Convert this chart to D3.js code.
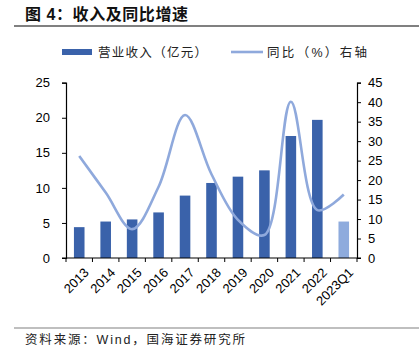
<!DOCTYPE html>
<html><head><meta charset="utf-8">
<script src="https://cdn.jsdelivr.net/npm/d3@7/dist/d3.min.js"></script>
<style>
body{margin:0;background:#fff;}
text{font-family:"Liberation Sans","Noto Sans CJK SC",Arial,sans-serif;}
</style></head>
<body>
<svg id="c" width="419" height="349"></svg>
<script>
const categories = ["2013","2014","2015","2016","2017","2018","2019","2020","2021","2022","2023Q1"];
const revenue = [4.4, 5.2, 5.5, 6.5, 8.9, 10.7, 11.6, 12.5, 17.4, 19.7, 5.2];
const yoy = [26.2, 16.8, 7.4, 18.3, 36.7, 21.5, 9.8, 5.9, 40.1, 12.3, 16.3];
const leftTicks = [0,5,10,15,20,25];
const rightTicks = [0,5,10,15,20,25,30,35,40,45];

const svg = d3.select("#c");
const cjk = '"Noto Sans CJK SC","Liberation Sans",sans-serif';
const L = 66, R = 357, T = 82.7, B = 258;

// title
svg.append("text").attr("x",25).attr("y",20).attr("font-size",16).attr("font-weight","bold")
  .attr("font-family",cjk).attr("fill","#111")
  .attr("textLength",163).attr("lengthAdjust","spacing").text("图 4：收入及同比增速");
svg.append("line").attr("x1",14).attr("x2",419).attr("y1",26).attr("y2",26)
  .attr("stroke","#808080").attr("stroke-width",2);

const x = d3.scaleBand().domain(categories).range([L,R]).padding(0);
const yL = d3.scaleLinear().domain([0,25]).range([B,T]);
const yR = d3.scaleLinear().domain([0,45]).range([B,T]);
const bw = x.bandwidth()*0.4;

// bars
svg.append("g").selectAll("rect").data(categories).join("rect")
  .attr("x",d=>x(d)+x.bandwidth()/2-bw/2).attr("width",bw)
  .attr("y",(d,i)=>yL(revenue[i])).attr("height",(d,i)=>B-yL(revenue[i]))
  .attr("fill",(d,i)=>i===categories.length-1?"#8EABDD":"#3A62AA");

// line
const line = d3.line().x((d,i)=>x(categories[i])+x.bandwidth()/2).y(d=>yR(d))
  .curve(d3.curveCatmullRom.alpha(0.5));
svg.append("path").attr("d",line(yoy)).attr("fill","none")
  .attr("stroke","#8FA9DC").attr("stroke-width",2.6);

// axes
const fontAx = 13;
const gl = svg.append("g").attr("transform",`translate(${L},0)`)
  .call(d3.axisLeft(yL).tickValues(leftTicks).tickSize(4).tickPadding(12));
const gr = svg.append("g").attr("transform",`translate(${R},0)`)
  .call(d3.axisRight(yR).tickValues(rightTicks).tickSize(4).tickPadding(7));
[gl,gr].forEach(g=>{
  g.select(".domain").attr("stroke","#000").attr("stroke-width",1.2);
  g.selectAll(".tick line").attr("stroke","#000");
  g.selectAll(".tick text").attr("font-size",fontAx).attr("fill","#000")
   .attr("font-family",'"Liberation Sans",Arial,sans-serif');
});
// x axis
svg.append("line").attr("x1",L-4).attr("x2",R+4).attr("y1",B).attr("y2",B).attr("stroke","#000").attr("stroke-width",1.2);
const bounds = categories.map(d=>x(d)).concat([R]);
svg.append("g").selectAll("line").data(bounds).join("line")
  .attr("x1",d=>d).attr("x2",d=>d).attr("y1",B).attr("y2",B+4).attr("stroke","#000");
svg.append("g").selectAll("text").data(categories).join("text")
  .attr("transform",d=>`translate(${x(d)+x.bandwidth()/2+4},${B+9}) rotate(-45)`)
  .attr("text-anchor","end").attr("dy","0.7em").attr("font-size",13)
  .attr("font-family",'"Liberation Sans",Arial,sans-serif').attr("fill","#000").text(d=>d);

// legend
svg.append("rect").attr("x",62).attr("y",49).attr("width",30).attr("height",6).attr("fill","#3A62AA");
svg.append("text").attr("x",98).attr("y",57).attr("font-size",12.5).attr("font-family",cjk).attr("fill","#222")
  .attr("textLength",109).attr("lengthAdjust","spacing").text("营业收入（亿元）");
svg.append("line").attr("x1",231).attr("x2",263).attr("y1",52).attr("y2",52).attr("stroke","#8FA9DC").attr("stroke-width",2.6);
svg.append("text").attr("x",267).attr("y",57).attr("font-size",12.5).attr("font-family",cjk).attr("fill","#222")
  .attr("textLength",100).attr("lengthAdjust","spacing").text("同比（%）右轴");

// footer
svg.append("line").attr("x1",14).attr("x2",419).attr("y1",328).attr("y2",328).attr("stroke","#808080").attr("stroke-width",1.2);
svg.append("text").attr("x",25).attr("y",344).attr("font-size",12.5).attr("font-family",cjk).attr("fill","#222")
  .attr("textLength",220).attr("lengthAdjust","spacing").text("资料来源：Wind，国海证券研究所");
</script>
</body></html>
